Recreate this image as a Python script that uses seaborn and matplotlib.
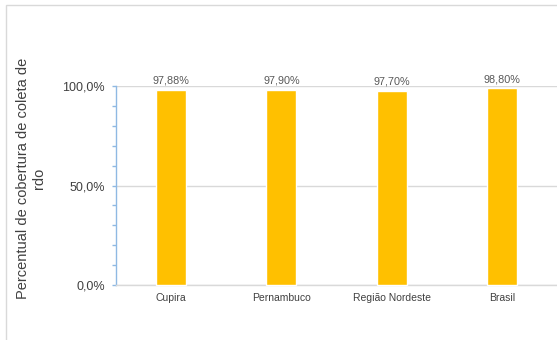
import matplotlib
matplotlib.use("Agg")
import matplotlib.pyplot as plt
import seaborn as sns
import pandas as pd
from matplotlib.ticker import MultipleLocator, FuncFormatter
from matplotlib.patches import Rectangle

categories = ["Cupira", "Pernambuco", "Região Nordeste", "Brasil"]
values = [97.88, 97.90, 97.70, 98.80]
value_labels = ["97,88%", "97,90%", "97,70%", "98,80%"]
ylabel = "Percentual de cobertura de coleta de\nrdo"

sns.set_style("white")
plt.rcParams["font.family"] = ["Liberation Sans", "DejaVu Sans"]

W, H = 557, 340
fig = plt.figure(figsize=(W / 100, H / 100), dpi=100)
ax = fig.add_axes([116 / W, 1 - 285 / H, (557 - 116) / W, (285 - 86) / H])

df = pd.DataFrame({"cat": categories, "val": values})
sns.barplot(data=df, x="cat", y="val", color="#ffc000", saturation=1,
            width=0.27, ax=ax, zorder=3)
for p in ax.patches:
    p.set_clip_on(False)

ax.set_ylim(0, 100)
ax.set_xlim(-0.5, len(categories) - 0.5)
ax.yaxis.set_major_locator(MultipleLocator(50))
ax.yaxis.set_minor_locator(MultipleLocator(10))
ax.yaxis.set_major_formatter(FuncFormatter(lambda v, _: f"{v:.1f}%".replace(".", ",")))

ax.grid(axis="y", which="major", color="#d9d9d9", linewidth=1, zorder=0)
ax.set_axisbelow(True)

blue = "#8fb9e3"
for s in ["top", "right"]:
    ax.spines[s].set_visible(False)
ax.spines["left"].set_color(blue)
ax.spines["left"].set_linewidth(1)
ax.spines["bottom"].set_color("#d9d9d9")
ax.spines["bottom"].set_linewidth(1)

ax.tick_params(axis="y", which="both", direction="out", color=blue, length=3,
               width=1, left=True, labelsize=9, labelcolor="#404040", pad=5)
ax.tick_params(axis="x", length=0, labelsize=7.5, labelcolor="#404040", pad=6)

ax.set_xlabel("")
ax.set_ylabel("")
fig.text(31 / W, 1 - 178 / H, ylabel, rotation=90, ha="center", va="center",
         multialignment="center", fontsize=10.5, color="#404040", linespacing=1.1)

for i, (v, lab) in enumerate(zip(values, value_labels)):
    ax.text(i, v + 2.2, lab, ha="center", va="bottom", fontsize=7.8, color="#595959")

fig.patches.append(Rectangle((6 / W, -0.01), 1.0, 1 - 5 / H + 0.01,
                             transform=fig.transFigure, fill=False,
                             edgecolor="#d9d9d9", linewidth=1))

fig.savefig("out.png", dpi=100)
